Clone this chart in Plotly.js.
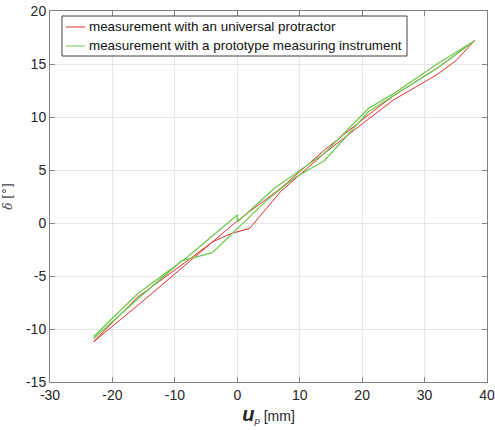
<!DOCTYPE html>
<html>
<head>
<meta charset="utf-8">
<script src="https://cdn.plot.ly/plotly-3.0.1.min.js"></script>
<style>html,body{margin:0;padding:0;background:#fff;}#chart{width:495px;height:430px;}</style>
</head>
<body>
<div id="chart"></div>
<script>
// Measurement with an universal protractor (loop: up then down)
const redX = [-23, -16, -9, -4, -1, 2, 7, 14, 21, 25, 32, 35, 38, 32, 25, 21, 14, 7, 0, -9, -16, -23];
const redY = [-11.2, -7.0, -4.0, -1.8, -1.0, -0.5, 3.0, 6.6, 9.8, 11.6, 14.0, 15.3, 17.2, 14.6, 12.0, 10.2, 6.9, 3.3, 0.2, -4.3, -7.8, -11.2];
// Measurement with a prototype measuring instrument
const greenX = [-23, -16, -8, 0, 0, 6, 14, 21, 25, 32, 38, 32, 25, 21, 14, 9, 5, -4, -9, -16, -23];
const greenY = [-10.7, -6.7, -3.2, 0.75, 0.1, 3.3, 6.6, 10.8, 12.2, 15.0, 17.2, 14.6, 12.0, 10.5, 5.9, 4.2, 2.3, -2.8, -3.6, -7.2, -10.9];

const seriesNames = ['measurement with an universal protractor', 'measurement with a prototype measuring instrument'];
const seriesColors = ['rgb(222,45,45)', 'rgb(112,200,80)'];
const xTicks = [-30, -20, -10, 0, 10, 20, 30, 40];
const yTicks = [-15, -10, -5, 0, 5, 10, 15, 20];

const traces = [
  {x: redX, y: redY, type: 'scatter', mode: 'lines', name: seriesNames[0],
   line: {color: seriesColors[0], width: 1}},
  {x: greenX, y: greenY, type: 'scatter', mode: 'lines', name: seriesNames[1],
   line: {color: seriesColors[1], width: 1.3}}
];

// plot area in pixels: left 50, right 487, top 11, bottom 382
const PL = 50, PW = 437, PT = 11, PH = 371;
const px = v => (v - PL) / PW;
const py = v => 1 - (v - PT) / PH;

const font = 'Liberation Sans, Arial, Helvetica, sans-serif';
const shapes = [
  {type: 'rect', xref: 'paper', yref: 'paper', x0: px(62), x1: px(407), y0: py(56), y1: py(16),
   line: {color: '#404040', width: 1}, fillcolor: '#fff', layer: 'above'}
];
const annotations = [];
seriesNames.forEach((nm, i) => {
  const yy = 27 + i * 19;
  shapes.push({type: 'line', xref: 'paper', yref: 'paper', x0: px(66), x1: px(85), y0: py(yy), y1: py(yy),
               line: {color: seriesColors[i], width: 1}, layer: 'above'});
  annotations.push({xref: 'paper', yref: 'paper', x: px(87), y: py(yy), xanchor: 'left', yanchor: 'middle',
                    text: nm, showarrow: false, font: {family: font, size: 13.4, color: '#111'}});
});

const axisCommon = {
  showline: true, linecolor: '#808080', linewidth: 1, mirror: 'ticks',
  ticks: 'inside', ticklen: 5, tickcolor: '#808080',
  showgrid: true, gridcolor: '#e6e6e6', gridwidth: 1,
  zeroline: false,
  tickfont: {family: font, size: 14, color: '#262626'}
};

const layout = {
  width: 495, height: 430,
  margin: {l: 50, r: 8, t: 11, b: 48},
  paper_bgcolor: '#fff', plot_bgcolor: '#fff',
  showlegend: false,
  shapes: shapes,
  annotations: annotations,
  xaxis: Object.assign({}, axisCommon, {
    range: [-30, 40], tickvals: xTicks, ticktext: xTicks.map(String),
    title: {text: '<span style="font-size:20px"><b><i>u</i></b></span><sub><i>p</i></sub> [mm]', standoff: 2,
            font: {family: font, size: 14, color: '#262626'}}
  }),
  yaxis: Object.assign({}, axisCommon, {
    range: [-15, 20], tickvals: yTicks, ticktext: yTicks.map(String),
    title: {text: '<i>δ</i> [°]', standoff: 10,
            font: {family: 'DejaVu Serif, Liberation Serif, serif', size: 12, color: '#444'}}
  })
};

Plotly.newPlot('chart', traces, layout, {displayModeBar: false, staticPlot: true});
</script>
</body>
</html>
